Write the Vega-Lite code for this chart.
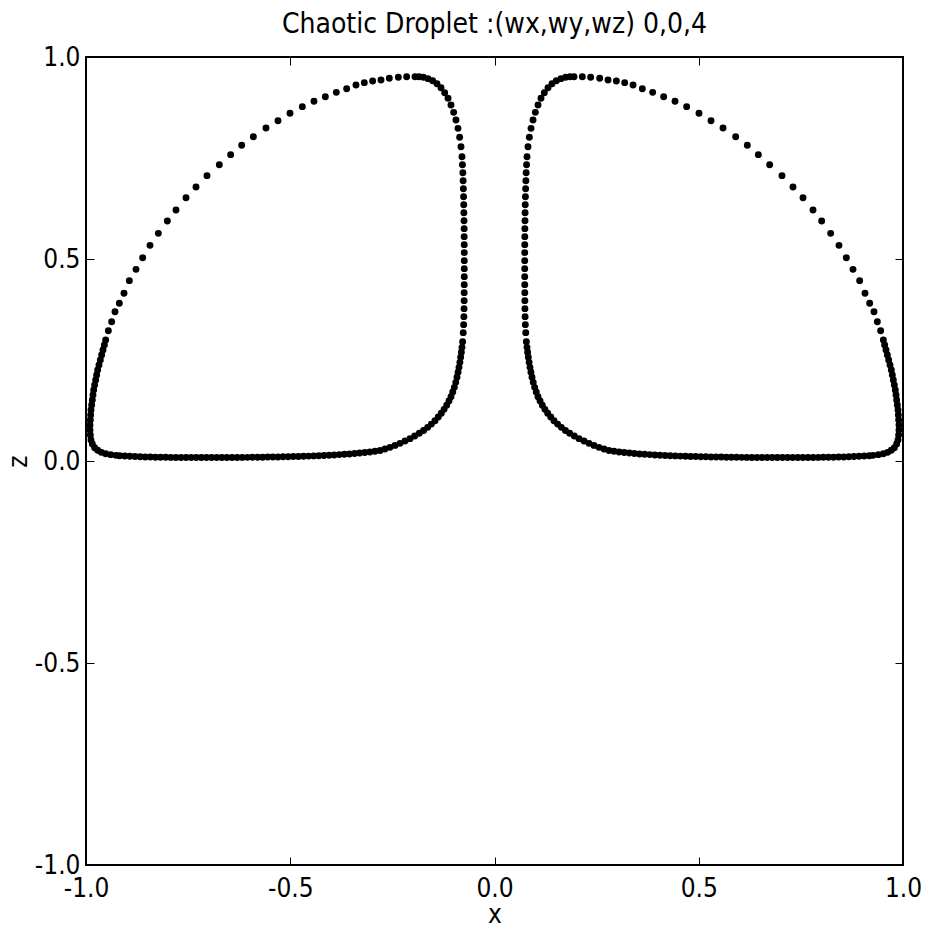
{
"$schema": "https://vega.github.io/schema/vega-lite/v6.json",
"autosize": "none",
"width": 817,
"height": 808,
"padding": {"left": 86, "top": 57, "right": 35, "bottom": 64},
"background": "white",
"config": {
  "font": "DejaVu Sans Condensed, DejaVu Sans",
  "view": {"stroke": "black", "strokeWidth": 2},
  "axis": {"domain": false, "grid": false, "tickColor": "black", "tickSize": -8, "tickWidth": 1,
    "labelFont": "DejaVu Sans Condensed, DejaVu Sans", "labelFontSize": 26, "labelColor": "black",
    "labelOverlap": false, "labelFlush": false, "labelBound": false,
    "titleFont": "DejaVu Sans Condensed, DejaVu Sans", "titleFontSize": 26, "titleFontWeight": "normal", "titleColor": "black"}
},
"title": {"text": "Chaotic Droplet :(wx,wy,wz) 0,0,4", "fontSize": 28, "fontWeight": "normal", "font": "DejaVu Sans Condensed, DejaVu Sans", "color": "black", "anchor": "middle", "frame": "group", "baseline": "alphabetic", "offset": 0, "dy": 17},
"data": {"values": [
{"x":-0.1946,"z":0.9513},{"x":-0.2150,"z":0.9513},{"x":-0.2354,"z":0.9497},{"x":-0.2575,"z":0.9472},{"x":-0.2779,"z":0.9431},{"x":-0.2983,"z":0.9406},{"x":-0.3187,"z":0.9365},{"x":-0.3391,"z":0.9307},{"x":-0.3619,"z":0.9216},{"x":-0.3872,"z":0.9125},{"x":-0.4141,"z":0.9018},{"x":-0.4419,"z":0.8903},{"x":-0.4704,"z":0.8771},{"x":-0.5006,"z":0.8606},{"x":-0.5300,"z":0.8424},{"x":-0.5594,"z":0.8243},{"x":-0.5904,"z":0.8028},{"x":-0.6189,"z":0.7814},{"x":-0.6459,"z":0.7583},{"x":-0.6736,"z":0.7335},{"x":-0.7038,"z":0.7063},{"x":-0.7307,"z":0.6782},{"x":-0.7552,"z":0.6518},{"x":-0.7797,"z":0.6213},{"x":-0.8009,"z":0.5941},{"x":-0.8229,"z":0.5635},{"x":-0.8433,"z":0.5338},{"x":-0.8613,"z":0.5033},{"x":-0.8776,"z":0.4744},{"x":-0.8939,"z":0.4464},{"x":-0.9070,"z":0.4150},{"x":-0.9184,"z":0.3903},{"x":-0.9290,"z":0.3696},{"x":-0.9372,"z":0.3449},{"x":-0.9453,"z":0.3226},
{"x":-0.9519,"z":0.2995},{"x":-0.9551,"z":0.2871},{"x":-0.9584,"z":0.2748},{"x":-0.9617,"z":0.2624},{"x":-0.9649,"z":0.2500},{"x":-0.9682,"z":0.2376},{"x":-0.9714,"z":0.2252},{"x":-0.9739,"z":0.2129},{"x":-0.9763,"z":0.2005},{"x":-0.9788,"z":0.1881},{"x":-0.9812,"z":0.1757},{"x":-0.9829,"z":0.1634},{"x":-0.9845,"z":0.1510},{"x":-0.9861,"z":0.1386},{"x":-0.9878,"z":0.1262},{"x":-0.9886,"z":0.1139},{"x":-0.9894,"z":0.1015},{"x":-0.9902,"z":0.0891},{"x":-0.9902,"z":0.0767},{"x":-0.9894,"z":0.0644},{"x":-0.9878,"z":0.0520},{"x":-0.9845,"z":0.0421},{"x":-0.9788,"z":0.0330},{"x":-0.9714,"z":0.0264},{"x":-0.9625,"z":0.0214},{"x":-0.9519,"z":0.0181},{"x":-0.9396,"z":0.0157},{"x":-0.9266,"z":0.0140},
{"x":-0.9175,"z":0.0131},{"x":-0.9050,"z":0.0123},{"x":-0.8925,"z":0.0116},{"x":-0.8800,"z":0.0110},{"x":-0.8675,"z":0.0105},{"x":-0.8550,"z":0.0101},{"x":-0.8425,"z":0.0098},{"x":-0.8300,"z":0.0095},{"x":-0.8175,"z":0.0093},{"x":-0.8050,"z":0.0091},{"x":-0.7925,"z":0.0089},{"x":-0.7800,"z":0.0088},{"x":-0.7675,"z":0.0087},{"x":-0.7550,"z":0.0086},{"x":-0.7425,"z":0.0086},{"x":-0.7300,"z":0.0085},{"x":-0.7175,"z":0.0085},{"x":-0.7050,"z":0.0085},{"x":-0.6925,"z":0.0085},{"x":-0.6800,"z":0.0085},{"x":-0.6675,"z":0.0086},{"x":-0.6550,"z":0.0086},{"x":-0.6425,"z":0.0087},{"x":-0.6300,"z":0.0088},{"x":-0.6175,"z":0.0089},{"x":-0.6050,"z":0.0090},{"x":-0.5925,"z":0.0092},{"x":-0.5800,"z":0.0093},{"x":-0.5675,"z":0.0095},{"x":-0.5550,"z":0.0097},{"x":-0.5425,"z":0.0099},{"x":-0.5300,"z":0.0101},{"x":-0.5175,"z":0.0104},{"x":-0.5050,"z":0.0107},{"x":-0.4925,"z":0.0110},{"x":-0.4800,"z":0.0113},{"x":-0.4675,"z":0.0117},{"x":-0.4550,"z":0.0121},{"x":-0.4425,"z":0.0126},{"x":-0.4300,"z":0.0131},{"x":-0.4175,"z":0.0137},{"x":-0.4050,"z":0.0143},{"x":-0.3925,"z":0.0150},{"x":-0.3800,"z":0.0158},{"x":-0.3675,"z":0.0166},{"x":-0.3550,"z":0.0175},{"x":-0.3425,"z":0.0185},{"x":-0.3300,"z":0.0197},{"x":-0.3175,"z":0.0210},{"x":-0.3050,"z":0.0225},{"x":-0.2925,"z":0.0240},{"x":-0.2800,"z":0.0260},
{"x":-0.1848,"z":0.9513},{"x":-0.1742,"z":0.9497},{"x":-0.1628,"z":0.9464},{"x":-0.1514,"z":0.9414},{"x":-0.1408,"z":0.9340},{"x":-0.1310,"z":0.9241},{"x":-0.1220,"z":0.9117},{"x":-0.1138,"z":0.8977},{"x":-0.1065,"z":0.8812},{"x":-0.1000,"z":0.8630},{"x":-0.0943,"z":0.8441},{"x":-0.0894,"z":0.8234},{"x":-0.0853,"z":0.8012},{"x":-0.0820,"z":0.7780},{"x":-0.0796,"z":0.7533},{"x":-0.0785,"z":0.7335},{"x":-0.0775,"z":0.7137},{"x":-0.0768,"z":0.6939},{"x":-0.0762,"z":0.6741},{"x":-0.0757,"z":0.6543},{"x":-0.0753,"z":0.6345},{"x":-0.0749,"z":0.6147},{"x":-0.0746,"z":0.5949},{"x":-0.0743,"z":0.5751},{"x":-0.0742,"z":0.5553},{"x":-0.0741,"z":0.5355},{"x":-0.0740,"z":0.5157},{"x":-0.0740,"z":0.4959},{"x":-0.0740,"z":0.4761},{"x":-0.0740,"z":0.4563},{"x":-0.0741,"z":0.4365},{"x":-0.0742,"z":0.4167},{"x":-0.0743,"z":0.3969},{"x":-0.0745,"z":0.3771},{"x":-0.0749,"z":0.3573},{"x":-0.0755,"z":0.3375},{"x":-0.0765,"z":0.3177},{"x":-0.0780,"z":0.2954},{"x":-0.0796,"z":0.2813},{"x":-0.0811,"z":0.2690},{"x":-0.0828,"z":0.2566},{"x":-0.0847,"z":0.2442},{"x":-0.0869,"z":0.2318},{"x":-0.0892,"z":0.2195},{"x":-0.0918,"z":0.2071},{"x":-0.0948,"z":0.1947},{"x":-0.0983,"z":0.1823},{"x":-0.1022,"z":0.1707},{"x":-0.1065,"z":0.1592},{"x":-0.1115,"z":0.1484},{"x":-0.1171,"z":0.1378},{"x":-0.1234,"z":0.1278},{"x":-0.1302,"z":0.1180},{"x":-0.1377,"z":0.1088},{"x":-0.1457,"z":0.0998},{"x":-0.1545,"z":0.0913},{"x":-0.1636,"z":0.0833},{"x":-0.1736,"z":0.0757},{"x":-0.1840,"z":0.0685},{"x":-0.1953,"z":0.0617},{"x":-0.2069,"z":0.0553},{"x":-0.2190,"z":0.0493},{"x":-0.2313,"z":0.0437},{"x":-0.2435,"z":0.0386},{"x":-0.2558,"z":0.0338},{"x":-0.2680,"z":0.0295},
{"x":0.1946,"z":0.9513},{"x":0.2150,"z":0.9513},{"x":0.2354,"z":0.9497},{"x":0.2575,"z":0.9472},{"x":0.2779,"z":0.9431},{"x":0.2983,"z":0.9406},{"x":0.3187,"z":0.9365},{"x":0.3391,"z":0.9307},{"x":0.3619,"z":0.9216},{"x":0.3872,"z":0.9125},{"x":0.4141,"z":0.9018},{"x":0.4419,"z":0.8903},{"x":0.4704,"z":0.8771},{"x":0.5006,"z":0.8606},{"x":0.5300,"z":0.8424},{"x":0.5594,"z":0.8243},{"x":0.5904,"z":0.8028},{"x":0.6189,"z":0.7814},{"x":0.6459,"z":0.7583},{"x":0.6736,"z":0.7335},{"x":0.7038,"z":0.7063},{"x":0.7307,"z":0.6782},{"x":0.7552,"z":0.6518},{"x":0.7797,"z":0.6213},{"x":0.8009,"z":0.5941},{"x":0.8229,"z":0.5635},{"x":0.8433,"z":0.5338},{"x":0.8613,"z":0.5033},{"x":0.8776,"z":0.4744},{"x":0.8939,"z":0.4464},{"x":0.9070,"z":0.4150},{"x":0.9184,"z":0.3903},{"x":0.9290,"z":0.3696},{"x":0.9372,"z":0.3449},{"x":0.9453,"z":0.3226},
{"x":0.9519,"z":0.2995},{"x":0.9551,"z":0.2871},{"x":0.9584,"z":0.2748},{"x":0.9617,"z":0.2624},{"x":0.9649,"z":0.2500},{"x":0.9682,"z":0.2376},{"x":0.9714,"z":0.2252},{"x":0.9739,"z":0.2129},{"x":0.9763,"z":0.2005},{"x":0.9788,"z":0.1881},{"x":0.9812,"z":0.1757},{"x":0.9829,"z":0.1634},{"x":0.9845,"z":0.1510},{"x":0.9861,"z":0.1386},{"x":0.9878,"z":0.1262},{"x":0.9886,"z":0.1139},{"x":0.9894,"z":0.1015},{"x":0.9902,"z":0.0891},{"x":0.9902,"z":0.0767},{"x":0.9894,"z":0.0644},{"x":0.9878,"z":0.0520},{"x":0.9845,"z":0.0421},{"x":0.9788,"z":0.0330},{"x":0.9714,"z":0.0264},{"x":0.9625,"z":0.0214},{"x":0.9519,"z":0.0181},{"x":0.9396,"z":0.0157},{"x":0.9266,"z":0.0140},
{"x":0.9175,"z":0.0131},{"x":0.9050,"z":0.0123},{"x":0.8925,"z":0.0116},{"x":0.8800,"z":0.0110},{"x":0.8675,"z":0.0105},{"x":0.8550,"z":0.0101},{"x":0.8425,"z":0.0098},{"x":0.8300,"z":0.0095},{"x":0.8175,"z":0.0093},{"x":0.8050,"z":0.0091},{"x":0.7925,"z":0.0089},{"x":0.7800,"z":0.0088},{"x":0.7675,"z":0.0087},{"x":0.7550,"z":0.0086},{"x":0.7425,"z":0.0086},{"x":0.7300,"z":0.0085},{"x":0.7175,"z":0.0085},{"x":0.7050,"z":0.0085},{"x":0.6925,"z":0.0085},{"x":0.6800,"z":0.0085},{"x":0.6675,"z":0.0086},{"x":0.6550,"z":0.0086},{"x":0.6425,"z":0.0087},{"x":0.6300,"z":0.0088},{"x":0.6175,"z":0.0089},{"x":0.6050,"z":0.0090},{"x":0.5925,"z":0.0092},{"x":0.5800,"z":0.0093},{"x":0.5675,"z":0.0095},{"x":0.5550,"z":0.0097},{"x":0.5425,"z":0.0099},{"x":0.5300,"z":0.0101},{"x":0.5175,"z":0.0104},{"x":0.5050,"z":0.0107},{"x":0.4925,"z":0.0110},{"x":0.4800,"z":0.0113},{"x":0.4675,"z":0.0117},{"x":0.4550,"z":0.0121},{"x":0.4425,"z":0.0126},{"x":0.4300,"z":0.0131},{"x":0.4175,"z":0.0137},{"x":0.4050,"z":0.0143},{"x":0.3925,"z":0.0150},{"x":0.3800,"z":0.0158},{"x":0.3675,"z":0.0166},{"x":0.3550,"z":0.0175},{"x":0.3425,"z":0.0185},{"x":0.3300,"z":0.0197},{"x":0.3175,"z":0.0210},{"x":0.3050,"z":0.0225},{"x":0.2925,"z":0.0240},{"x":0.2800,"z":0.0260},
{"x":0.1848,"z":0.9513},{"x":0.1742,"z":0.9497},{"x":0.1628,"z":0.9464},{"x":0.1514,"z":0.9414},{"x":0.1408,"z":0.9340},{"x":0.1310,"z":0.9241},{"x":0.1220,"z":0.9117},{"x":0.1138,"z":0.8977},{"x":0.1065,"z":0.8812},{"x":0.1000,"z":0.8630},{"x":0.0943,"z":0.8441},{"x":0.0894,"z":0.8234},{"x":0.0853,"z":0.8012},{"x":0.0820,"z":0.7780},{"x":0.0796,"z":0.7533},{"x":0.0785,"z":0.7335},{"x":0.0775,"z":0.7137},{"x":0.0768,"z":0.6939},{"x":0.0762,"z":0.6741},{"x":0.0757,"z":0.6543},{"x":0.0753,"z":0.6345},{"x":0.0749,"z":0.6147},{"x":0.0746,"z":0.5949},{"x":0.0743,"z":0.5751},{"x":0.0742,"z":0.5553},{"x":0.0741,"z":0.5355},{"x":0.0740,"z":0.5157},{"x":0.0740,"z":0.4959},{"x":0.0740,"z":0.4761},{"x":0.0740,"z":0.4563},{"x":0.0741,"z":0.4365},{"x":0.0742,"z":0.4167},{"x":0.0743,"z":0.3969},{"x":0.0745,"z":0.3771},{"x":0.0749,"z":0.3573},{"x":0.0755,"z":0.3375},{"x":0.0765,"z":0.3177},{"x":0.0780,"z":0.2954},{"x":0.0796,"z":0.2813},{"x":0.0811,"z":0.2690},{"x":0.0828,"z":0.2566},{"x":0.0847,"z":0.2442},{"x":0.0869,"z":0.2318},{"x":0.0892,"z":0.2195},{"x":0.0918,"z":0.2071},{"x":0.0948,"z":0.1947},{"x":0.0983,"z":0.1823},{"x":0.1022,"z":0.1707},{"x":0.1065,"z":0.1592},{"x":0.1115,"z":0.1484},{"x":0.1171,"z":0.1378},{"x":0.1234,"z":0.1278},{"x":0.1302,"z":0.1180},{"x":0.1377,"z":0.1088},{"x":0.1457,"z":0.0998},{"x":0.1545,"z":0.0913},{"x":0.1636,"z":0.0833},{"x":0.1736,"z":0.0757},{"x":0.1840,"z":0.0685},{"x":0.1953,"z":0.0617},{"x":0.2069,"z":0.0553},{"x":0.2190,"z":0.0493},{"x":0.2313,"z":0.0437},{"x":0.2435,"z":0.0386},{"x":0.2558,"z":0.0338},{"x":0.2680,"z":0.0295}
]},
"layer": [
  {
    "mark": {"type": "circle", "color": "black", "opacity": 1, "size": 48},
    "encoding": {
      "x": {"field": "x", "type": "quantitative", "scale": {"domain": [-1, 1], "nice": false, "zero": false},
        "axis": {"values": [-1, -0.5, 0, 0.5, 1], "labelExpr": "datum.value < 0 ? '-' + format(-datum.value, '.1f') : format(datum.value, '.1f')", "labelPadding": 18, "title": "x", "titlePadding": 0}},
      "y": {"field": "z", "type": "quantitative", "scale": {"domain": [-1, 1], "nice": false, "zero": false},
        "axis": {"values": [-1, -0.5, 0, 0.5, 1], "labelExpr": "datum.value < 0 ? '-' + format(-datum.value, '.1f') : format(datum.value, '.1f')", "labelPadding": 14, "title": "z", "titlePadding": 3}}
    }
  },
  {
    "mark": {"type": "circle", "opacity": 0, "size": 1},
    "encoding": {
      "x": {"field": "x", "type": "quantitative", "scale": {"domain": [-1, 1], "nice": false, "zero": false},
        "axis": {"orient": "top", "values": [-1, -0.5, 0, 0.5, 1], "labels": false, "title": null}},
      "y": {"field": "z", "type": "quantitative", "scale": {"domain": [-1, 1], "nice": false, "zero": false},
        "axis": {"orient": "right", "values": [-1, -0.5, 0, 0.5, 1], "labels": false, "title": null}}
    }
  }
],
"resolve": {"scale": {"x": "independent", "y": "independent"}, "axis": {"x": "independent", "y": "independent"}}
}
